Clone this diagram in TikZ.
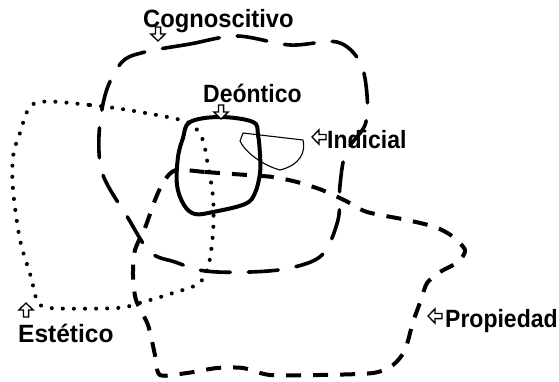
\documentclass[tikz,border=0pt]{standalone}
\usepackage{fontspec}
\newfontfamily\lab{Liberation Sans Bold}
\begin{document}
\begin{tikzpicture}[x=1pt,y=-1pt,
  cogline/.style={line width=3.6pt, dash pattern=on 30pt off 18pt, line cap=round},
  propline/.style={line width=4pt, dash pattern=on 15pt off 12pt, line cap=butt},
  estline/.style={line width=4pt, dash pattern=on 0.1pt off 11pt, line cap=round},
  deoline/.style={line width=4pt, line join=round},
  indline/.style={line width=1.1pt, line join=round},
  lbl/.style={font=\lab\fontsize{25}{25}\selectfont, inner sep=0pt, anchor=base west},
  harrow/.pic={\draw[line width=1.3pt, line join=miter, fill=white] (-2.6,0) -- (-2.6,7) -- (-7.2,7) -- (0,14) -- (7.2,7) -- (2.6,7) -- (2.6,0) -- cycle;}
]
\useasboundingbox (0,0) rectangle (559,381);

% Cognoscitivo (dashed)
\draw[cogline] plot[smooth cycle, tension=0.55] coordinates {
 (145,52) (190,44) (237,36) (290,45) (337,42) (360,62) (367,95) (365,125)
 (346,152) (340,185) (338,220) (322,255) (290,268) (250,272) (205,271)
 (175,262) (150,252) (128,218) (103,175) (99,135) (106,92) (122,62)};

% Estetico (dotted)
\draw[estline] plot[smooth cycle, tension=0.5] coordinates {
 (35,103) (90,105) (140,112) (187,122) (202,138) (207,160) (213,197) (213,233)
 (208,268) (198,284) (173,293) (143,302) (117,308) (50,308) (37,300) (31,277)
 (20,240) (13,190) (13,157) (20,133)};

% Propiedad (dashed)
\draw[propline] plot[smooth cycle, tension=0.45] coordinates {
 (176,170) (205,172) (247,175) (273,177) (297,182) (322,190) (346,201) (367,212)
 (407,220) (435,227) (452,236) (465,250) (458,262) (440,272) (427,283) (421,300)
 (413,322) (405,350) (393,365) (373,373) (320,375) (270,375) (243,368) (217,368)
 (187,373) (160,375) (155,355) (148,325) (136,300) (133,275) (135,250) (145,228)
 (155,200) (164,181)};

% Deontico (solid)
\draw[deoline] plot[smooth cycle, tension=0.6] coordinates {
 (190,122) (220,117) (253,122) (258,135) (260,155) (260,173) (255,193)
 (245,204) (213,212) (195,214) (184,205) (177,185) (178,157) (183,138)};

% Indicial (thin)
\draw[indline] (240,141) -- (243,133) -- (303,140)
  .. controls (306,152) and (300,165) .. (280,170)
  .. controls (262,165) and (245,152) .. (240,141) -- cycle;

% labels
\node[lbl] (cog) at (143,27) {\scalebox{0.95}[1]{Cognoscitivo}};
\node[lbl] (deo) at (203,102) {\scalebox{0.92}[1]{Deóntico}};
\node[lbl] (ind) at (327,148) {\scalebox{0.92}[1]{Indicial}};
\node[lbl] (pro) at (445,327) {\scalebox{0.92}[1]{Propiedad}};
\node[lbl] (est) at (18,342) {\scalebox{0.98}[1]{Estético}};

% hollow arrows
\pic at (158,27) {harrow};
\pic at (221,105) {harrow};
\pic[rotate=-90] at (326,137) {harrow};
\pic[rotate=-90] at (442,316) {harrow};
\pic[rotate=180] at (26,317) {harrow};
\end{tikzpicture}
\end{document}
